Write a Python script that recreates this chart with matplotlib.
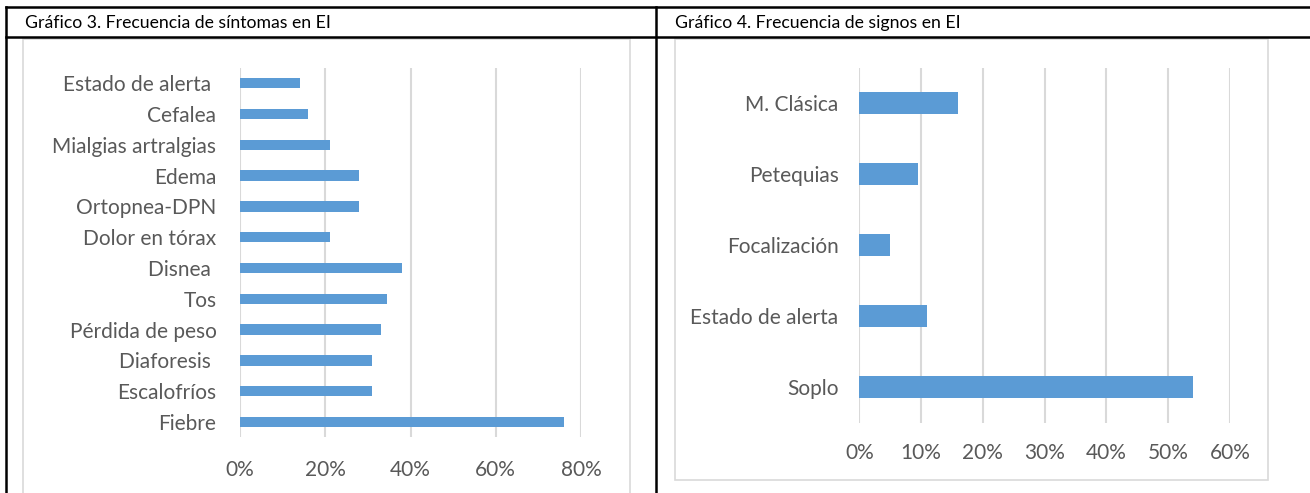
import matplotlib
matplotlib.use("Agg")
import matplotlib.pyplot as plt
from matplotlib.patches import Rectangle
from matplotlib.lines import Line2D
from matplotlib.ticker import FuncFormatter

plt.rcParams['font.family'] = ['Lato', 'DejaVu Sans']

# ---------------------------------------------------------------- data
sintomas = ["Estado de alerta ", "Cefalea", "Mialgias artralgias", "Edema",
            "Ortopnea-DPN", "Dolor en tórax", "Disnea ", "Tos",
            "Pérdida de peso", "Diaforesis ", "Escalofríos", "Fiebre"]
sintomas_pct = [14, 16, 21, 28, 28, 21, 38, 34.5, 33, 31, 31, 76]
sintomas_ticks = [0, 20, 40, 60, 80]

signos = ["M. Clásica", "Petequias", "Focalización", "Estado de alerta", "Soplo"]
signos_pct = [16, 9.5, 5, 11, 54]
signos_ticks = [0, 10, 20, 30, 40, 50, 60]

titulo_3 = "Gráfico 3. Frecuencia de síntomas en EI"
titulo_4 = "Gráfico 4. Frecuencia de signos en EI"

BLUE = "#5b9bd5"
GRID = "#d9d9d9"
TXT = "#595959"

W, H = 1310, 493
fig = plt.figure(figsize=(W / 100, H / 100), dpi=100)


def fx(px):
    return px / W


def fy(py):
    return 1 - py / H


# table lines
for (x0, y0, x1, y1) in [(6, 7, W, 7), (6, 37, W, 37), (6, 7, 6, H), (656, 7, 656, H)]:
    fig.add_artist(Line2D([fx(x0), fx(x1)], [fy(y0), fy(y1)], color="black", lw=1.8))

fig.text(fx(25), fy(23), titulo_3, fontsize=12.7, va="center", ha="left", color="black")
fig.text(fx(675), fy(23), titulo_4, fontsize=12.7, va="center", ha="left", color="black")

# chart boxes
fig.add_artist(Rectangle((fx(23), fy(500)), fx(630 - 23), (500 - 39) / H,
                         fill=False, edgecolor=GRID, lw=1.2))
fig.add_artist(Rectangle((fx(675), fy(480)), fx(1268 - 675), (480 - 39) / H,
                         fill=False, edgecolor=GRID, lw=1.2))


def barh_chart(ax, labels, vals, ticks, bar_h, ypad, xpad):
    pos = list(range(len(labels)))
    ax.barh(pos, vals, height=bar_h, color=BLUE, zorder=3)
    ax.set_yticks(pos)
    ax.set_yticklabels(labels)
    ax.set_ylim(len(labels) - 0.5, -0.5)
    ax.set_xlim(ticks[0], ticks[-1])
    ax.set_xticks(ticks)
    ax.xaxis.set_major_formatter(FuncFormatter(lambda v, p: "%d%%" % v))
    ax.grid(axis="x", color=GRID, lw=1.5, zorder=0)
    ax.set_axisbelow(True)
    for s in ax.spines.values():
        s.set_visible(False)
    ax.tick_params(axis="both", length=0, colors=TXT, labelsize=15)
    ax.tick_params(axis="y", pad=ypad)
    ax.tick_params(axis="x", pad=xpad)
    ax.set_facecolor("none")


ax1 = fig.add_axes([fx(240), fy(437.4), fx(581 - 240), (437.4 - 67.8) / H])
barh_chart(ax1, sintomas, sintomas_pct, sintomas_ticks, 0.34, 17, 16.5)

ax2 = fig.add_axes([fx(859.4), fy(422.5), fx(1230 - 859.4), (422.5 - 67.5) / H])
barh_chart(ax2, signos, signos_pct, signos_ticks, 0.31, 15, 14.5)

fig.savefig("out.png", dpi=100)
